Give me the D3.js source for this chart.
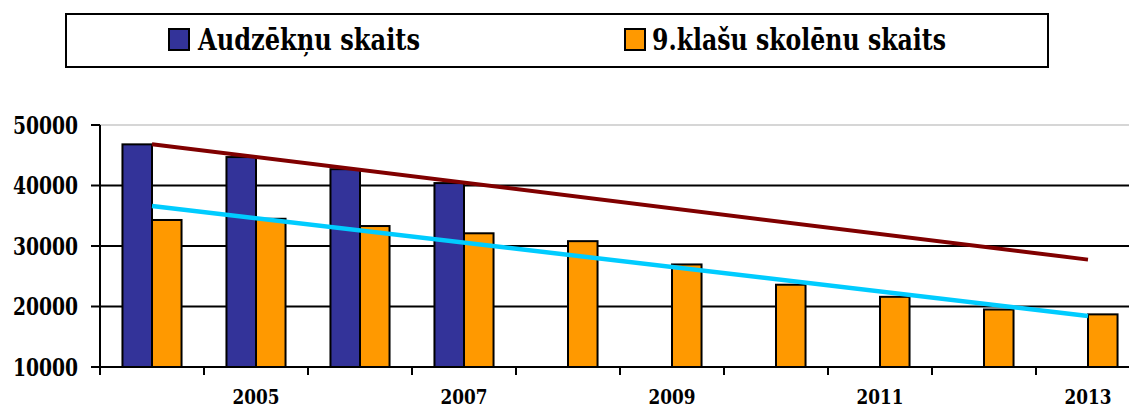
<!DOCTYPE html>
<html>
<head>
<meta charset="utf-8">
<script src="https://cdn.jsdelivr.net/npm/d3@7/dist/d3.min.js"></script>
<style>
  html, body { margin: 0; padding: 0; background: #fff; }
  svg { display: block; }
  svg text { font-family: "DejaVu Serif", serif; font-weight: bold; }
</style>
</head>
<body>
<svg id="chart" width="1129" height="410"></svg>
<script>
// ---- data ----
const years = [2004, 2005, 2006, 2007, 2008, 2009, 2010, 2011, 2012, 2013];
const studentsLabel = "Audzēkņu skaits";
const studentsValues = [46800, 44700, 42700, 40400, null, null, null, null, null, null];
const ninthLabel = "9.klašu skolēnu skaits";
const ninthValues = [34300, 34500, 33300, 32100, 30800, 26950, 23600, 21600, 19500, 18700];
const yTicks = [10000, 20000, 30000, 40000, 50000];
const xLabelYears = [2005, 2007, 2009, 2011, 2013];

const colors = { students: "#333399", ninth: "#FF9900", studentsTrend: "#800000", ninthTrend: "#00CCFF" };

// ---- layout ----
const svg = d3.select("#chart");
const plot = { left: 100, right: 1140, top: 125, bottom: 367 };

const x = d3.scaleBand().domain(years).range([plot.left, plot.right]).paddingInner(0).paddingOuter(0);
const barW = x.bandwidth() * 0.284;
const y = d3.scaleLinear().domain([10000, 50000]).range([plot.bottom, plot.top]);

// gridlines
svg.append("g").selectAll("line").data(yTicks.filter(d => d > 10000)).join("line")
  .attr("x1", plot.left).attr("x2", 1129)
  .attr("y1", d => y(d)).attr("y2", d => y(d))
  .attr("stroke", d => d === 50000 ? "#c8c8c8" : "#000")
  .attr("stroke-width", d => d === 50000 ? 1.5 : 2);

// bars
const series = [
  { key: "students", values: studentsValues, offset: -barW },
  { key: "ninth", values: ninthValues, offset: 0 }
];
series.forEach(s => {
  svg.append("g").selectAll("rect")
    .data(years.map((yr, i) => ({ yr, v: s.values[i] })).filter(d => d.v != null))
    .join("rect")
    .attr("x", d => x(d.yr) + x.bandwidth() / 2 + s.offset)
    .attr("width", barW)
    .attr("y", d => y(d.v))
    .attr("height", d => y(10000) - y(d.v))
    .attr("fill", colors[s.key])
    .attr("stroke", "#000")
    .attr("stroke-width", 2);
});

// linear trendlines (least squares on available points, drawn across all categories)
function trend(values) {
  const pts = values.map((v, i) => [i, v]).filter(p => p[1] != null);
  const mx = d3.mean(pts, p => p[0]), my = d3.mean(pts, p => p[1]);
  const sxy = d3.sum(pts, p => (p[0] - mx) * (p[1] - my));
  const sxx = d3.sum(pts, p => (p[0] - mx) ** 2);
  const b = sxy / sxx, a = my - b * mx;
  return [0, years.length - 1].map(i => [i, a + b * i]);
}
const cx = i => x(years[i]) + x.bandwidth() / 2;
const line = d3.line().x(p => cx(p[0])).y(p => y(p[1]));
svg.append("path").attr("d", line(trend(studentsValues)))
  .attr("fill", "none").attr("stroke", colors.studentsTrend).attr("stroke-width", 4);
svg.append("path").attr("d", line(trend(ninthValues)))
  .attr("fill", "none").attr("stroke", colors.ninthTrend).attr("stroke-width", 4.5);

// y axis
const yAxis = svg.append("g");
yAxis.append("line").attr("x1", plot.left).attr("x2", plot.left)
  .attr("y1", plot.top).attr("y2", plot.bottom).attr("stroke", "#000").attr("stroke-width", 2);
yAxis.selectAll("line.tick").data(yTicks).join("line").attr("class", "tick")
  .attr("x1", 91).attr("x2", plot.left).attr("y1", d => y(d)).attr("y2", d => y(d))
  .attr("stroke", "#000").attr("stroke-width", 2);
yAxis.selectAll("text").data(yTicks).join("text")
  .attr("x", 78).attr("y", d => y(d) + 8.5)
  .attr("text-anchor", "end").attr("font-size", 23.5)
  .attr("textLength", 65).attr("lengthAdjust", "spacingAndGlyphs")
  .text(d => d);

// x axis
const xAxis = svg.append("g");
xAxis.append("line").attr("x1", plot.left).attr("x2", 1129)
  .attr("y1", plot.bottom).attr("y2", plot.bottom).attr("stroke", "#000").attr("stroke-width", 2);
xAxis.selectAll("line.tick").data(years).join("line").attr("class", "tick")
  .attr("x1", d => x(d)).attr("x2", d => x(d)).attr("y1", plot.bottom).attr("y2", plot.bottom + 8)
  .attr("stroke", "#000").attr("stroke-width", 2);
xAxis.selectAll("text").data(xLabelYears).join("text")
  .attr("x", d => x(d) + x.bandwidth() / 2).attr("y", 404)
  .attr("text-anchor", "middle").attr("font-size", 20)
  .attr("textLength", 47).attr("lengthAdjust", "spacingAndGlyphs")
  .text(d => d);

// legend
const lg = svg.append("g");
lg.append("rect").attr("x", 66).attr("y", 14).attr("width", 982).attr("height", 53)
  .attr("fill", "#fff").attr("stroke", "#000").attr("stroke-width", 2);
const legendItems = [
  { label: studentsLabel, color: colors.students, mx: 169, tx: 198, w: 222 },
  { label: ninthLabel, color: colors.ninth, mx: 625, tx: 652, w: 294 }
];
legendItems.forEach(it => {
  lg.append("rect").attr("x", it.mx).attr("y", 29).attr("width", 20).attr("height", 21)
    .attr("fill", it.color).attr("stroke", "#000").attr("stroke-width", 2);
  lg.append("text").attr("x", it.tx).attr("y", 50).attr("font-size", 30)
    .attr("textLength", it.w).attr("lengthAdjust", "spacingAndGlyphs")
    .text(it.label);
});
</script>
</body>
</html>
